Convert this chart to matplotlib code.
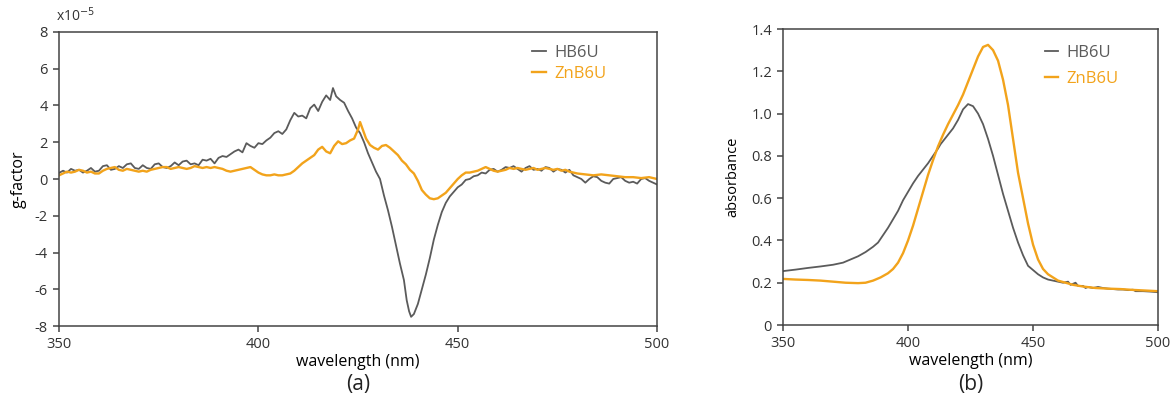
import matplotlib.pyplot as plt

# (a) g-factor (x1e-5) vs wavelength
wl_a_hb = [350, 351, 352, 353, 354, 355, 356, 357, 358, 359, 360, 361, 362, 363, 364, 365, 366, 367, 368, 369,
           370, 371, 372, 373, 374, 375, 376, 377, 378, 379, 380, 381, 382, 383, 384, 385, 386, 387, 388, 389,
           390, 391, 392, 393, 394, 395, 396, 397, 398, 399, 400, 401, 402, 403, 404, 405, 406, 407, 408, 409,
           410, 411, 412, 413, 414, 415, 416, 417, 418, 418.7, 419.5, 420.5, 421.5, 422.5, 423.5, 424.5, 425.5,
           426.5, 427.5, 428.5, 429.5, 430.5, 431.5, 432.5, 433.5, 434.5, 435.5, 436.5, 437.2, 437.8, 438.3,
           439, 440, 441, 442, 443, 444, 445, 446, 447, 448, 449, 450, 451, 452, 453, 454, 455, 456, 457, 458,
           459, 460, 461, 462, 463, 464, 465, 466, 467, 468, 469, 470, 471, 472, 473, 474, 475, 476, 477, 478,
           479, 480, 481, 482, 483, 484, 485, 486, 487, 488, 489, 490, 491, 492, 493, 494, 495, 496, 497, 498,
           499, 500]
g_hb = [0.33, 0.45, 0.35, 0.55, 0.45, 0.5, 0.35, 0.45, 0.6, 0.4, 0.45, 0.7, 0.75, 0.5, 0.55, 0.7, 0.6, 0.8, 0.85, 0.6,
        0.55, 0.75, 0.6, 0.55, 0.8, 0.85, 0.65, 0.6, 0.7, 0.9, 0.75, 0.95, 1.0, 0.8, 0.85, 0.75, 1.05, 1.0, 1.1, 0.85,
        1.15, 1.25, 1.2, 1.35, 1.5, 1.6, 1.45, 1.95, 1.8, 1.7, 1.95, 1.9, 2.1, 2.25, 2.5, 2.6, 2.45, 2.7, 3.2, 3.6,
        3.4, 3.45, 3.3, 3.85, 4.05, 3.7, 4.2, 4.55, 4.3, 4.95, 4.5, 4.3, 4.15, 3.7, 3.3, 2.8, 2.5,
        2.0, 1.4, 0.9, 0.4, 0.0, -0.9, -1.7, -2.6, -3.6, -4.6, -5.5, -6.6, -7.2, -7.5,
        -7.35, -6.8, -6.0, -5.2, -4.3, -3.3, -2.5, -1.8, -1.3, -0.95, -0.7, -0.45, -0.3, -0.05, 0.0, 0.15, 0.2, 0.35, 0.3, 0.5,
        0.55, 0.4, 0.5, 0.65, 0.6, 0.7, 0.55, 0.4, 0.6, 0.7, 0.5, 0.55, 0.45, 0.65, 0.6, 0.4, 0.55, 0.5, 0.35, 0.5,
        0.2, 0.1, 0.0, -0.2, 0.0, 0.15, 0.1, -0.1, -0.2, -0.25, 0.0, 0.05, 0.1, -0.1, -0.2, -0.15, -0.25, 0.0, 0.05, -0.1,
        -0.2, -0.3]

wl_a_zn = [350, 351, 352, 353, 354, 355, 356, 357, 358, 359, 360, 361, 362, 363, 364, 365, 366, 367, 368, 369,
           370, 371, 372, 373, 374, 375, 376, 377, 378, 379, 380, 381, 382, 383, 384, 385, 386, 387, 388, 389,
           390, 391, 392, 393, 394, 395, 396, 397, 398, 399, 400, 401, 402, 403, 404, 405, 406, 407, 408, 409,
           410, 411, 412, 413, 414, 415, 416, 417, 418, 419, 420, 421, 422, 423, 424, 425, 425.5, 426, 427, 428,
           429, 430, 431, 432, 433, 434, 435, 436, 437, 438, 439, 440, 441, 442, 443, 444, 445, 446, 447, 448,
           449, 450, 451, 452, 453, 454, 455, 456, 457, 458, 459, 460, 461, 462, 463, 464, 465, 466, 467, 468,
           469, 470, 471, 472, 473, 474, 475, 476, 477, 478, 479, 480, 482, 484, 486, 488, 490, 492, 494, 496,
           498, 500]
g_zn = [0.2, 0.3, 0.4, 0.35, 0.4, 0.5, 0.45, 0.35, 0.4, 0.3, 0.3, 0.45, 0.55, 0.6, 0.65, 0.5, 0.45, 0.55, 0.5, 0.45,
        0.4, 0.45, 0.4, 0.5, 0.55, 0.6, 0.65, 0.65, 0.55, 0.6, 0.65, 0.6, 0.55, 0.6, 0.7, 0.65, 0.6, 0.65, 0.6, 0.65,
        0.6, 0.55, 0.45, 0.4, 0.45, 0.5, 0.55, 0.6, 0.65, 0.5, 0.35, 0.25, 0.2, 0.2, 0.25, 0.2, 0.2, 0.25, 0.3, 0.45,
        0.65, 0.85, 1.0, 1.15, 1.3, 1.6, 1.75, 1.5, 1.4, 1.8, 2.05, 1.9, 1.95, 2.1, 2.2, 2.7, 3.1, 2.8, 2.2, 1.85,
        1.7, 1.6, 1.8, 1.85, 1.7, 1.5, 1.3, 1.0, 0.8, 0.5, 0.3, -0.1, -0.6, -0.85, -1.05, -1.1, -1.05, -0.9, -0.75, -0.5,
        -0.25, 0.0, 0.2, 0.35, 0.35, 0.4, 0.45, 0.55, 0.65, 0.55, 0.45, 0.4, 0.45, 0.5, 0.6, 0.55, 0.6, 0.55, 0.5, 0.55,
        0.6, 0.5, 0.55, 0.6, 0.55, 0.5, 0.55, 0.45, 0.5, 0.4, 0.35, 0.3, 0.25, 0.2, 0.25, 0.2, 0.15, 0.1, 0.1, 0.05,
        0.1, 0.0]

# (b) absorbance vs wavelength
wl_b_hb = [350, 355, 360, 365, 370, 374, 377, 380, 383, 386, 388, 390, 392, 394, 396, 398, 400, 402, 404, 406,
           408, 410, 412, 413, 414, 416, 418, 420, 422, 424, 426, 428, 430, 432, 434, 436, 438, 440, 442, 444,
           446, 448, 449, 450, 452, 454, 456, 458, 460, 462, 464, 465, 467, 468, 470, 471, 472, 474, 476, 478,
           480, 482, 484, 486, 488, 490, 491, 494, 497, 500]
abs_hb = [0.255, 0.262, 0.27, 0.277, 0.285, 0.295, 0.31, 0.325, 0.345, 0.37, 0.39, 0.425, 0.46, 0.5, 0.54, 0.59, 0.63, 0.67, 0.705, 0.735,
          0.765, 0.8, 0.835, 0.855, 0.87, 0.9, 0.93, 0.97, 1.02, 1.045, 1.035, 1.0, 0.95, 0.88, 0.8, 0.71, 0.62, 0.54, 0.46, 0.39,
          0.33, 0.28, 0.27, 0.26, 0.24, 0.225, 0.215, 0.21, 0.205, 0.2, 0.205, 0.19, 0.2, 0.185, 0.185, 0.175, 0.18, 0.175, 0.18, 0.175,
          0.172, 0.17, 0.168, 0.168, 0.165, 0.167, 0.16, 0.16, 0.158, 0.155]

wl_b_zn = [350, 355, 360, 365, 370, 375, 380, 383, 386, 389, 392, 394, 396, 398, 400, 402, 404, 406, 408, 410,
           412, 414, 416, 418, 420, 422, 424, 426, 428, 430, 432, 434, 436, 438, 440, 442, 444, 446, 448, 450,
           452, 454, 456, 458, 460, 463, 466, 470, 475, 480, 485, 490, 495, 500]
abs_zn = [0.218, 0.215, 0.213, 0.21, 0.205, 0.2, 0.198, 0.2, 0.21, 0.225, 0.245, 0.265, 0.295, 0.34, 0.4, 0.47, 0.55, 0.63, 0.71, 0.78,
          0.845, 0.9, 0.95, 0.995, 1.04, 1.09, 1.15, 1.21, 1.27, 1.315, 1.325, 1.3, 1.25, 1.16, 1.04, 0.88, 0.72, 0.6, 0.48, 0.38,
          0.31, 0.265, 0.24, 0.225, 0.21, 0.2, 0.19, 0.182, 0.175, 0.172, 0.17, 0.166, 0.163, 0.16]

gray = '#5b5b5b'
orange = '#f2a31b'
spine_c = '#444444'

plt.rcParams['font.family'] = ['Open Sans', 'DejaVu Sans']
plt.rcParams['font.size'] = 10.5
plt.rcParams['axes.unicode_minus'] = False

fig = plt.figure(figsize=(11.74, 3.98), dpi=100)
ax1 = fig.add_axes([0.0503, 0.1809, 0.5094, 0.7387])
ax2 = fig.add_axes([0.667, 0.1834, 0.3194, 0.7437])


def style(ax):
    for s in ax.spines.values():
        s.set_color(spine_c)
        s.set_linewidth(1.1)
    ax.tick_params(direction='out', length=4, width=1.1, color=spine_c, pad=4,
                   labelcolor='#333333', top=False, right=False)


ax1.plot(wl_a_hb, g_hb, color=gray, lw=1.3, label='HB6U')
ax1.plot(wl_a_zn, g_zn, color=orange, lw=1.7, label='ZnB6U')
ax1.set_xlim(350, 500)
ax1.set_ylim(-8, 8)
ax1.set_xticks([350, 400, 450, 500])
ax1.set_yticks([8, 6, 4, 2, 0, -2, -4, -6, -8])
ax1.set_ylabel('g-factor', fontsize=11.5, labelpad=6)
ax1.set_xlabel('wavelength (nm)', fontsize=11.5, labelpad=1)
ax1.text(-0.005, 1.025, 'x10$^{-5}$', transform=ax1.transAxes, fontsize=10, color='#333333', ha='left', va='bottom')
fig.text(0.305, 0.035, '(a)', fontsize=15, ha='center', va='center', color='#222222')
style(ax1)
ax1.legend(loc='upper right', bbox_to_anchor=(0.915, 0.955), borderaxespad=0, borderpad=0, frameon=False,
           handlelength=0.8, handletextpad=0.5, labelspacing=0.3, fontsize=12, labelcolor='linecolor')

ax2.plot(wl_b_hb, abs_hb, color=gray, lw=1.3, label='HB6U')
ax2.plot(wl_b_zn, abs_zn, color=orange, lw=1.7, label='ZnB6U')
ax2.set_xlim(350, 500)
ax2.set_ylim(0, 1.4)
ax2.set_xticks([350, 400, 450, 500])
ax2.set_yticks([0, 0.2, 0.4, 0.6, 0.8, 1.0, 1.2, 1.4])
ax2.set_yticklabels(['0', '0.2', '0.4', '0.6', '0.8', '1.0', '1.2', '1.4'])
ax2.set_ylabel('absorbance', fontsize=10.5, labelpad=8)
ax2.set_xlabel('wavelength (nm)', fontsize=11.5, labelpad=1)
fig.text(0.8265, 0.035, '(b)', fontsize=15, ha='center', va='center', color='#222222')
style(ax2)
ax2.legend(loc='upper right', bbox_to_anchor=(0.895, 0.945), borderaxespad=0, borderpad=0, frameon=False,
           handlelength=0.8, handletextpad=0.5, labelspacing=0.6, fontsize=12, labelcolor='linecolor')

fig.savefig('out.png', dpi=100)
